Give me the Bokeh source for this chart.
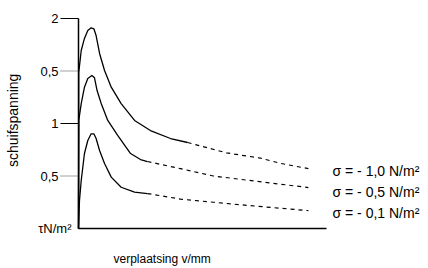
import math
from bokeh.plotting import figure
from bokeh.models import Range1d
from bokeh.core.properties import value
from bokeh.embed import file_html
from bokeh.resources import INLINE

# ---- data ----
x_axis_end = 10.0
y_axis_end = 2.0
y_ticks = [0.5, 1.0, 1.5, 2.0]
y_tick_labels = ["0,5", "1", "0,5", "2"]
y_tick_solid = [False, True, False, True]

# sigma = -1,0 N/m2
top_x = [0, 0.01, 0.11, 0.24, 0.375, 0.51, 0.62, 0.71, 0.85, 1.05, 1.32, 1.72, 2.26, 2.90, 3.71, 4.40]
top_y = [0, 1.486, 1.695, 1.810, 1.886, 1.911, 1.902, 1.838, 1.667, 1.505, 1.346, 1.190, 1.029, 0.933, 0.857, 0.819]
top_dx = [4.40, 5.97, 7.34, 8.15, 9.27]
top_dy = [0.819, 0.72, 0.67, 0.62, 0.57]

# sigma = -0,5 N/m2
mid_x = [0, 0.01, 0.11, 0.24, 0.375, 0.54, 0.645, 0.75, 0.915, 1.18, 1.58, 2.10, 2.50, 2.78]
mid_y = [0, 1.029, 1.190, 1.346, 1.429, 1.457, 1.435, 1.314, 1.190, 1.029, 0.886, 0.714, 0.657, 0.638]
mid_dx = [2.78, 4.11, 5.44, 6.81, 9.27]
mid_dy = [0.638, 0.57, 0.50, 0.46, 0.39]

# sigma = -0,1 N/m2
bot_x = [0, 0.04, 0.11, 0.24, 0.375, 0.51, 0.62, 0.71, 0.85, 1.05, 1.32, 1.72, 2.26, 2.78]
bot_y = [0, 0.267, 0.457, 0.714, 0.838, 0.902, 0.902, 0.857, 0.743, 0.619, 0.489, 0.393, 0.346, 0.333]
bot_dx = [2.78, 4.11, 5.44, 6.81, 9.27]
bot_dy = [0.333, 0.28, 0.25, 0.22, 0.17]

legend_texts = ["σ = - 1,0 N/m²", "σ = - 0,5 N/m²", "σ = - 0,1 N/m²"]
legend_y = [0.55, 0.35, 0.15]

y_title = "schuifspanning"
y_unit = "τN/m²"
x_title = "verplaatsing v/mm"

FONT = value("Liberation Sans")
W, H = 428, 268
PX_X = 24.8   # pixels per x unit
PX_Y = 105.0  # pixels per y unit
LEFT, BOTTOM = 78, 40

p = figure(width=W, height=H,
           x_range=Range1d(-LEFT / PX_X, (W - LEFT) / PX_X),
           y_range=Range1d(-BOTTOM / PX_Y, (H - BOTTOM) / PX_Y),
           output_backend="svg", toolbar_location=None,
           x_axis_type=None, y_axis_type=None, min_border=0)
p.outline_line_color = None
p.grid.visible = False
p.background_fill_color = "white"

tick_len = 18 / PX_X

# axes lines
p.segment(x0=[0, 0], y0=[0, 0], x1=[x_axis_end, 0], y1=[0, y_axis_end],
          line_color="black", line_width=1.5)

# ticks: solid and dotted
solid = [t for t, s in zip(y_ticks, y_tick_solid) if s]
dotted = [t for t, s in zip(y_ticks, y_tick_solid) if not s]
p.segment(x0=[-tick_len] * len(solid), y0=solid, x1=[0] * len(solid), y1=solid,
          line_color="black", line_width=1.2)
p.segment(x0=[-tick_len] * len(dotted), y0=dotted, x1=[0] * len(dotted), y1=dotted,
          line_color="#444444", line_width=1, line_dash="1 1")
p.text(x=[-tick_len - 2 / PX_X] * len(y_ticks), y=y_ticks, text=y_tick_labels,
       text_font=FONT, text_font_size="13px", text_align="right",
       text_baseline="middle", text_color="black")

# curves
for xs, ys, dxs, dys in [(top_x, top_y, top_dx, top_dy),
                         (mid_x, mid_y, mid_dx, mid_dy),
                         (bot_x, bot_y, bot_dx, bot_dy)]:
    p.line(xs, ys, line_color="black", line_width=1.3, line_join="round")
    p.line(dxs, dys, line_color="black", line_width=1.2, line_dash="4 4")

# legend texts
p.text(x=[(332 - LEFT) / PX_X] * len(legend_texts), y=legend_y, text=legend_texts,
       text_font=FONT, text_font_size="14px", text_align="left",
       text_baseline="middle", text_color="black")

# axis titles
p.text(x=[-7 / PX_X], y=[0], text=[y_unit], text_font=FONT, text_font_size="13px",
       text_align="right", text_baseline="middle", text_color="black")
p.text(x=[(12 - LEFT) / PX_X], y=[1.03], text=[y_title], angle=math.pi / 2,
       text_font=FONT, text_font_size="14px", text_align="center",
       text_baseline="middle", text_color="black")
p.text(x=[(113 - LEFT) / PX_X], y=[-30 / PX_Y], text=[x_title], text_font=FONT,
       text_font_size="12px", text_align="left", text_baseline="middle",
       text_color="black")

open("out.html", "w").write(file_html(p, INLINE))
